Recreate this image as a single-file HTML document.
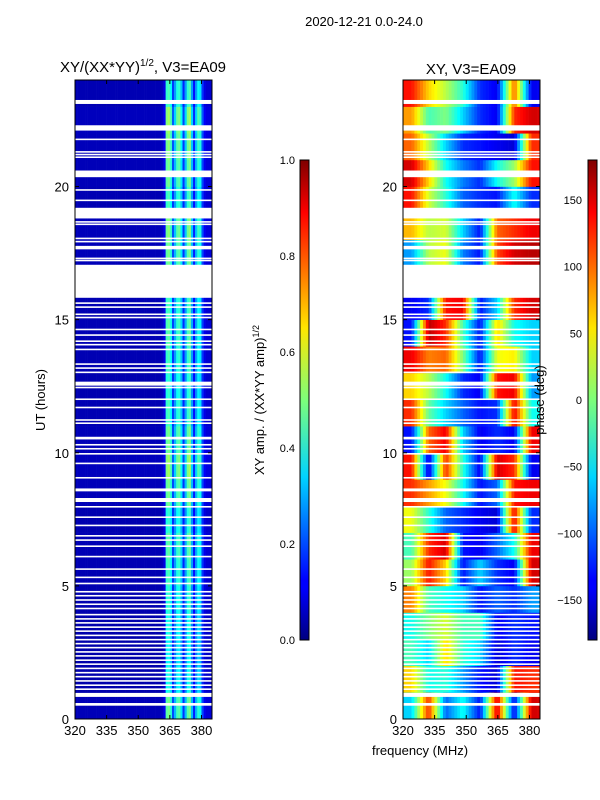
<!DOCTYPE html>
<html><head><meta charset="utf-8">
<style>
body{margin:0;background:#fff;}
svg{display:block;font-family:"Liberation Sans","DejaVu Sans",sans-serif;}
</style></head>
<body>
<svg id="fig" width="600" height="800" viewBox="0 0 600 800">
<defs>
<linearGradient id="jet" x1="0" y1="1" x2="0" y2="0">
<stop offset="0" stop-color="#00007f"/><stop offset="0.11" stop-color="#0000ff"/><stop offset="0.125" stop-color="#0000ff"/>
<stop offset="0.34" stop-color="#00d4ff"/><stop offset="0.5" stop-color="#7dff7a"/><stop offset="0.65" stop-color="#ffe600"/>
<stop offset="0.89" stop-color="#ff0000"/><stop offset="1" stop-color="#7f0000"/>
</linearGradient>
</defs>
<text x="364" y="26" font-size="13" text-anchor="middle">2020-12-21 0.0-24.0</text>
<text x="143" y="72" font-size="15" text-anchor="middle">XY/(XX*YY)<tspan font-size="10" dy="-6">1/2</tspan><tspan dy="6">, V3=EA09</tspan></text>
<text x="471" y="74" font-size="15" text-anchor="middle">XY, V3=EA09</text>
<g id="ampHeat"></g>
<g id="phaseHeat"></g>
<g id="axes"></g>
<rect x="300" y="160" width="9" height="480" fill="url(#jet)" stroke="#000" stroke-width="1"/>
<rect x="588" y="160" width="9" height="480" fill="url(#jet)" stroke="#000" stroke-width="1"/>
<text transform="translate(264,400) rotate(-90)" font-size="13" text-anchor="middle">XY amp. / (XX*YY amp)<tspan font-size="9" dy="-5">1/2</tspan></text>
<text transform="translate(544,400) rotate(-90)" font-size="13" text-anchor="middle">phase (deg)</text>
<text transform="translate(45,400) rotate(-90)" font-size="13" text-anchor="middle">UT (hours)</text>
<text x="420" y="755" font-size="13" text-anchor="middle">frequency (MHz)</text>
</svg>
<script>
const xTicks=[320,335,350,365,380];
const yTicks=[0,5,10,15,20];
const ampTicks=[0.0,0.2,0.4,0.6,0.8,1.0];
const phaseTicks=[-150,-100,-50,0,50,100,150];
const gaps=[[23.1,23.25],[22.1,22.3],[20.35,20.6],[18.8,19.2],[17.64,17.77],[15.82,17.06],[12.52,12.67],[10.5,10.6],[8.55,8.66],[8.15,8.3],[0.83,0.98],[0.5,0.6]];
const thinLines=[21.77,21.3,21.2,21.1,19.87,19.48,18.67,18.58,18.05,17.93,17.3,17.22,15.62,15.47,15.2,15.08,14.63,14.42,14.19,14.06,13.88,13.33,13.18,13.02,12.45,12.01,11.7,11.23,11.11,10.3,10.15,9.96,9.6,9.06,7.97,7.58,7.27,6.88,6.72,6.49,6.1,5.63,5.32,5.09,4.78,4.63,4.47,4.31,4.15,3.92,3.76,3.61,3.45,3.3,3.14,2.98,2.83,2.68,2.52,2.37,2.21,2.06,1.9,1.74,1.59,1.43,1.27,1.12];
// amplitude profile per 1 MHz bin starting at 320 MHz
const ampProfile=[0.05,0.05,0.05,0.05,0.05,0.05,0.05,0.05,0.05,0.05,0.05,0.05,0.05,0.05,0.05,0.05,0.05,0.05,0.05,0.05,0.05,0.05,0.05,0.05,0.05,0.05,0.05,0.05,0.05,0.05,0.05,0.05,0.05,0.05,0.05,0.05,0.05,0.05,0.05,0.05,0.05,0.06,0.1,0.42,0.45,0.38,0.18,0.28,0.4,0.42,0.32,0.16,0.28,0.42,0.45,0.28,0.14,0.28,0.38,0.35,0.18,0.1,0.08,0.08,0.08];
const ampRowFactor=[1.1,0.9,0.85,0.9,0.95,1.0,1.05,0.95,1.1,1.2,1.1,1.0,0.95,1.0,1.05,1.0,1,1.1,1.15,1.0,1.1,1.15,1.2,1.0];
// phase (deg), rows = hours 0..23, cols = 8 bins across 320-385 MHz
const phaseData=[
[-60,120,-100,-40,-130,150,-140,150],
[60,-40,-30,-80,-130,-150,130,120],
[-20,-60,60,-30,-60,-150,-120,-140],
[-40,0,30,-20,-20,-140,-120,-130],
[90,-20,-40,-60,-130,-100,-120,-80],
[10,130,60,-130,-60,-120,-140,150],
[-20,120,150,-130,-140,-100,-40,140],
[40,-30,-100,-120,-140,-150,140,-120],
[120,80,40,-40,-130,-100,130,140],
[130,-150,120,-30,-140,150,120,-140],
[-130,100,140,-60,-140,-120,-140,140],
[120,-10,-60,-100,-130,-120,140,-40],
[60,20,-40,-120,-140,130,140,-80],
[140,90,100,0,-130,40,50,-60],
[-130,160,120,-20,-130,60,-40,-60],
[-140,-120,130,140,-130,-60,120,150],
[-140,-120,130,140,-130,-60,120,150],
[-80,20,40,-90,-130,110,150,160],
[70,20,30,-60,-130,100,120,140],
[130,30,-30,-100,-120,-130,-40,-120],
[150,60,-40,-90,-120,-40,10,130],
[100,20,-60,-120,-130,-140,-150,120],
[80,-20,0,-60,-120,-140,120,150],
[130,60,20,-30,-120,-140,100,-140]];

const NS='http://www.w3.org/2000/svg';
const F0=320,F1=385,PY0=80,PY1=719;
const panels=[{x0:75,x1:212},{x0:403,x1:540}];
function xs(p,f){return p.x0+(f-F0)/(F1-F0)*(p.x1-p.x0);}
function ys(h){return PY1-h/24*(PY1-PY0);}
function jet(v){v=Math.max(0,Math.min(1,v));
 const c=t=>Math.round(255*Math.max(0,Math.min(1,1.5-Math.abs(4*v-t))));
 return `rgb(${c(3)},${c(2)},${c(1)})`;}
function mk(tag,attrs,parent){const e=document.createElementNS(NS,tag);for(const k in attrs)e.setAttribute(k,attrs[k]);parent.appendChild(e);return e;}
const amp=document.getElementById('ampHeat'),ph=document.getElementById('phaseHeat'),ax=document.getElementById('axes');
const pa=panels[0],pp=panels[1];
const SUB=6;
for(let h=0;h<24;h++){
 for(let i=0;i<ampProfile.length;i++){
  const r=mk('rect',{x:xs(pa,F0+i),y:ys(h+1),width:xs(pa,F0+i+1)-xs(pa,F0+i)+0.3,height:ys(h)-ys(h+1)+0.3,fill:jet(ampProfile[i]*ampRowFactor[h])},amp);
  
  
 }
 const row=phaseData[h],n=row.length,bw=(F1-F0)/n;
 for(let j=0;j<n;j++){
  for(let s=0;s<SUB;s++){
   const pos=j+(s+0.5)/SUB-0.5; // position in bin-center units
   const a=Math.max(0,Math.min(n-1,Math.floor(pos))),b=Math.min(n-1,a+1);
   const t=Math.max(0,Math.min(1,pos-a));
   const v=row[a]*(1-t)+row[b]*t;
   const f0=F0+(j+s/SUB)*bw,f1=F0+(j+(s+1)/SUB)*bw;
   const r=mk('rect',{x:xs(pp,f0),y:ys(h+1),width:xs(pp,f1)-xs(pp,f0)+0.3,height:ys(h)-ys(h+1)+0.3,fill:jet((v+180)/360)},ph);
   
   
  }
 }
}
for(const p of panels){
 for(const g of gaps){const r=mk('rect',{x:p.x0,y:ys(g[1]),width:p.x1-p.x0,height:ys(g[0])-ys(g[1]),fill:'#fff'},ax);
  
  }
 for(const t of thinLines){const r=mk('rect',{x:p.x0,y:ys(t)-0.8,width:p.x1-p.x0,height:1.6,fill:'#fff'},ax);
  
  }
 const fr=mk('rect',{x:p.x0,y:PY0,width:p.x1-p.x0,height:PY1-PY0,fill:'none',stroke:'#000','stroke-width':1},ax);
 
 
 for(const t of xTicks){const x=xs(p,t);
  mk('line',{x1:x,x2:x,y1:PY1,y2:PY1-4,stroke:'#000'},ax);mk('line',{x1:x,x2:x,y1:PY0,y2:PY0+4,stroke:'#000'},ax);
  const tx=mk('text',{x:x,y:PY1+16,'font-size':13,'text-anchor':'middle'},ax);tx.textContent=t;
  
  }
 for(const t of yTicks){const y=ys(t);
  mk('line',{x1:p.x0,x2:p.x0+4,y1:y,y2:y,stroke:'#000'},ax);mk('line',{x1:p.x1,x2:p.x1-4,y1:y,y2:y,stroke:'#000'},ax);
  const tx=mk('text',{x:p.x0-6,y:y+5,'font-size':13,'text-anchor':'end'},ax);tx.textContent=t;
  
  }
}
for(const t of ampTicks){const y=640-t*480;
 mk('line',{x1:300,x2:303,y1:y,y2:y,stroke:'#000'},ax);mk('line',{x1:309,x2:306,y1:y,y2:y,stroke:'#000'},ax);
 const tx=mk('text',{x:295,y:y+4,'font-size':11,'text-anchor':'end'},ax);tx.textContent=t.toFixed(1);
 
 }
for(const t of phaseTicks){const y=400-t*480/360;
 mk('line',{x1:588,x2:591,y1:y,y2:y,stroke:'#000'},ax);mk('line',{x1:597,x2:594,y1:y,y2:y,stroke:'#000'},ax);
 const tx=mk('text',{x:582,y:y+4,'font-size':11,'text-anchor':'end'},ax);tx.textContent=t<0?'\u2212'+(-t):t;
 
 }
</script>
</body></html>
